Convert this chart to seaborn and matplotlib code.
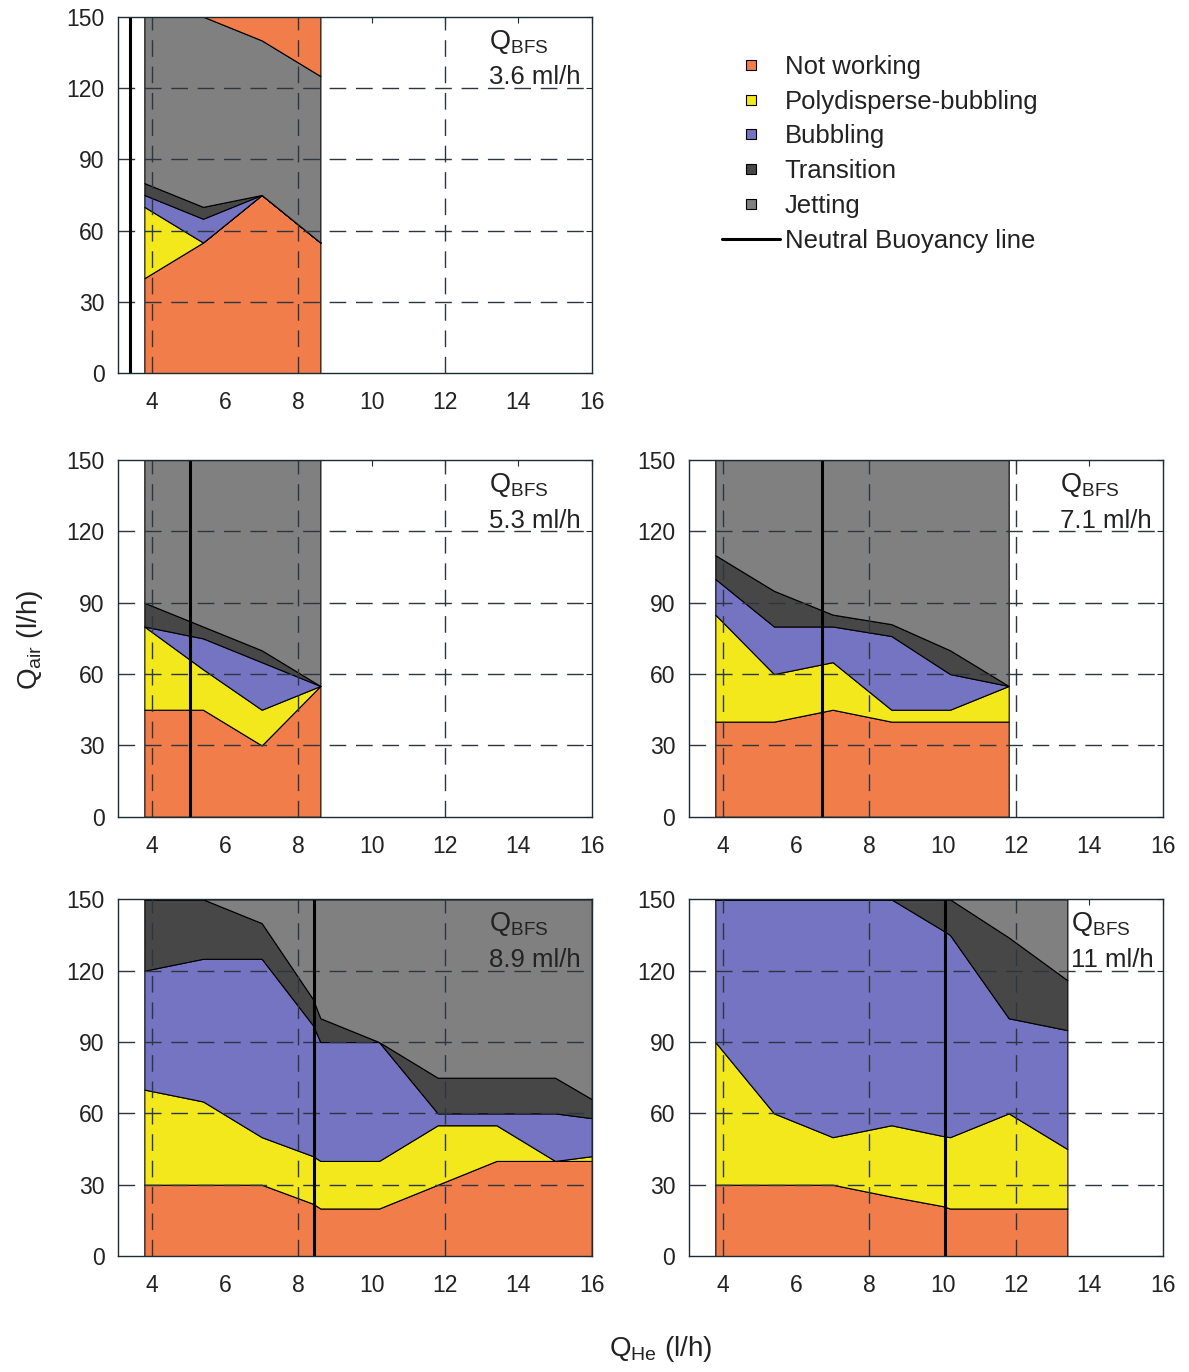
import matplotlib
matplotlib.use("Agg")
import matplotlib.pyplot as plt
import seaborn as sns
import pandas as pd
from matplotlib.lines import Line2D

# ---------------- data ----------------
REGIMES = ["Not working", "Polydisperse-bubbling", "Bubbling", "Transition", "Jetting"]
NEUTRAL_LABEL = "Neutral Buoyancy line"

# Panel 1 : Q_BFS = 3.6 ml/h  (upper boundary of each stacked regime)
P1_QBFS = "3.6 ml/h"
P1_QHE = [3.8, 5.4, 7.0, 8.6]
P1_NOT_WORKING = [40, 55, 75, 55]
P1_POLY = [70, 55, 75, 55]
P1_BUBBLING = [75, 65, 75, 55]
P1_TRANSITION = [80, 70, 75, 55]
P1_JETTING = [150, 150, 140, 125]
P1_UPPER_NOT_WORKING = [150, 150, 150, 150]
P1_NEUTRAL = 3.4

# Panel 2 : Q_BFS = 5.3 ml/h
P2_QBFS = "5.3 ml/h"
P2_QHE = [3.8, 5.4, 7.0, 8.6]
P2_NOT_WORKING = [45, 45, 30, 55]
P2_POLY = [80, 62, 45, 55]
P2_BUBBLING = [80, 75, 65, 55]
P2_TRANSITION = [90, 80, 70, 55]
P2_JETTING = [150, 150, 150, 150]
P2_NEUTRAL = 5.05

# Panel 3 : Q_BFS = 7.1 ml/h
P3_QBFS = "7.1 ml/h"
P3_QHE = [3.8, 5.4, 7.0, 8.6, 10.2, 11.8]
P3_NOT_WORKING = [40, 40, 45, 40, 40, 40]
P3_POLY = [85, 60, 65, 45, 45, 55]
P3_BUBBLING = [100, 80, 80, 76, 60, 55]
P3_TRANSITION = [110, 95, 85, 81, 70, 55]
P3_JETTING = [150, 150, 150, 150, 150, 150]
P3_NEUTRAL = 6.72

# Panel 4 : Q_BFS = 8.9 ml/h
P4_QBFS = "8.9 ml/h"
P4_QHE = [3.8, 5.4, 7.0, 8.4, 8.6, 10.2, 11.8, 13.4, 15.0, 16.0]
P4_NOT_WORKING = [30, 30, 30, 22, 20, 20, 30, 40, 40, 40]
P4_POLY = [70, 65, 50, 42, 40, 40, 55, 55, 40, 42]
P4_BUBBLING = [120, 125, 125, 97, 90, 90, 60, 60, 60, 58]
P4_TRANSITION = [150, 150, 140, 108, 100, 90, 75, 75, 75, 66]
P4_JETTING = [150, 150, 150, 150, 150, 150, 150, 150, 150, 150]
P4_NEUTRAL = 8.43

# Panel 5 : Q_BFS = 11 ml/h
P5_QBFS = "11 ml/h"
P5_QHE = [3.8, 5.4, 7.0, 8.6, 10.0, 10.2, 11.8, 13.4]
P5_NOT_WORKING = [30, 30, 30, 25, 21, 20, 20, 20]
P5_POLY = [90, 60, 50, 55, 50.5, 50, 60, 45]
P5_BUBBLING = [150, 150, 150, 150, 137, 135, 100, 95]
P5_TRANSITION = [150, 150, 150, 150, 150, 150, 134, 116]
P5_JETTING = [150, 150, 150, 150, 150, 150, 150, 150]
P5_NEUTRAL = 10.05

X_TICKS = [4, 6, 8, 10, 12, 14, 16]
Y_TICKS = [0, 30, 60, 90, 120, 150]

# ---------------- style ----------------
COLORS = ["#F17D4B", "#F2E81C", "#7474C2", "#474747", "#808080"]
GRID_X = [4, 8, 12]
GRID_Y = [30, 60, 90, 120]
TXT = "#222222"
FS_TICK = 16.5
FS_TXT = 18.5
FS_LAB = 20

sns.set_theme(style="white")
plt.rcParams["font.family"] = ["Liberation Sans", "DejaVu Sans"]
plt.rcParams["mathtext.fontset"] = "custom"
plt.rcParams["mathtext.rm"] = "Liberation Sans"
plt.rcParams["mathtext.it"] = "Liberation Sans"

fig = plt.figure(figsize=(11.89, 13.72), dpi=100)

W = 0.3982
H = 0.2600
positions = {
    1: [0.0995, 0.7279, W, H],
    2: [0.0995, 0.4047, W, H],
    3: [0.5797, 0.4047, W, H],
    4: [0.0995, 0.0845, W, H],
    5: [0.5797, 0.0845, W, H],
}

panels = [
    (1, P1_QBFS, P1_QHE, [P1_NOT_WORKING, P1_POLY, P1_BUBBLING, P1_TRANSITION, P1_JETTING], P1_UPPER_NOT_WORKING, P1_NEUTRAL, 13.2),
    (2, P2_QBFS, P2_QHE, [P2_NOT_WORKING, P2_POLY, P2_BUBBLING, P2_TRANSITION, P2_JETTING], None, P2_NEUTRAL, 13.2),
    (3, P3_QBFS, P3_QHE, [P3_NOT_WORKING, P3_POLY, P3_BUBBLING, P3_TRANSITION, P3_JETTING], None, P3_NEUTRAL, 13.2),
    (4, P4_QBFS, P4_QHE, [P4_NOT_WORKING, P4_POLY, P4_BUBBLING, P4_TRANSITION, P4_JETTING], None, P4_NEUTRAL, 13.2),
    (5, P5_QBFS, P5_QHE, [P5_NOT_WORKING, P5_POLY, P5_BUBBLING, P5_TRANSITION, P5_JETTING], None, P5_NEUTRAL, 13.5),
]

for idx, qbfs, x, tops, upper, neutral, tx in panels:
    ax = fig.add_axes(positions[idx])
    bottom = [0] * len(x)
    for top, col in zip(tops, COLORS):
        ax.fill_between(x, bottom, top, facecolor=col, edgecolor="black",
                        linewidth=0.8, zorder=1)
        bottom = top
    if upper is not None:
        ax.fill_between(x, bottom, upper, facecolor=COLORS[0], edgecolor="black",
                        linewidth=0.8, zorder=1)
    for gx in GRID_X:
        ax.axvline(gx, color="#2b3640", lw=1.0, ls=(0, (12, 7)), zorder=2)
    for gy in GRID_Y:
        ax.axhline(gy, color="#2b3640", lw=1.0, ls=(0, (12, 7)), zorder=2)
    nb = pd.DataFrame({"x": [neutral, neutral], "y": [Y_TICKS[0], Y_TICKS[-1]]})
    sns.lineplot(data=nb, x="x", y="y", sort=False, estimator=None,
                 color="black", lw=2.2, ax=ax, zorder=3)
    ax.set_xlim(3.09, 16)
    ax.set_ylim(0, 150)
    ax.set_xticks(X_TICKS)
    ax.set_yticks(Y_TICKS)
    ax.set_xlabel("")
    ax.set_ylabel("")
    ax.tick_params(axis="both", direction="in", length=4, width=0.8,
                   colors="#1d2b33", labelcolor=TXT, labelsize=FS_TICK,
                   top=True, right=True)
    ax.tick_params(axis="x", pad=13)
    ax.tick_params(axis="y", pad=10)
    for sp in ax.spines.values():
        sp.set_visible(True)
        sp.set_color("#1d2b33")
        sp.set_linewidth(1.0)
        sp.set_zorder(4)
    ax.text(tx, 139.5, r"Q$_{\mathregular{BFS}}$", fontsize=FS_TXT + 1, color=TXT,
            ha="left", va="center", zorder=5)
    ax.text(tx, 124.5, qbfs, fontsize=FS_TXT, color=TXT, ha="left", va="center", zorder=5)

# legend
handles = [Line2D([], [], linestyle="none", marker="s", markersize=7.5,
                  markerfacecolor=c, markeredgecolor="black", markeredgewidth=0.8)
           for c in COLORS]
handles.append(Line2D([], [], color="black", lw=2.2))
fig.legend(handles, REGIMES + [NEUTRAL_LABEL], loc="upper left",
           bbox_to_anchor=(0.607, 0.960), frameon=False, fontsize=FS_TXT,
           handlelength=2.25, handletextpad=0.2, labelspacing=0.42,
           borderpad=0, borderaxespad=0, labelcolor=TXT)

fig.text(0.025, 0.5335, r"Q$_{\mathregular{air}}$ (l/h)", rotation=90,
         ha="center", va="center", fontsize=FS_LAB, color=TXT)
fig.text(0.556, 0.0165, r"Q$_{\mathregular{He}}$ (l/h)",
         ha="center", va="center", fontsize=FS_LAB, color=TXT)

fig.savefig("out.png", dpi=100)
